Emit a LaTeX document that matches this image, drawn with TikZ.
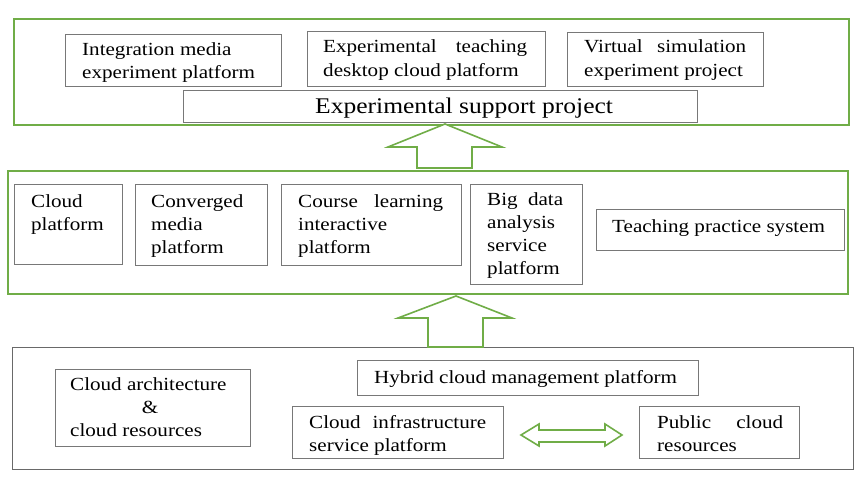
\documentclass[tikz,border=0pt]{standalone}
\usepackage{fontspec}
\setmainfont{Liberation Serif}[FakeStretch=1.14]
\definecolor{frgreen}{RGB}{112,173,71}
\definecolor{boxgray}{RGB}{120,120,120}
\definecolor{selgray}{RGB}{105,105,105}
\newcommand\mkbx[6]{\node[#6, anchor=north west, inner sep=0pt, minimum width={#4-#2}, minimum height={#5-#3}] (#1) at (#2,#3) {};}
\begin{document}
\begin{tikzpicture}[x=1pt,y=-1pt,
  frame/.style={draw=frgreen, line width=2pt},
  selframe/.style={draw=selgray, line width=1.3pt},
  bx/.style={draw=boxgray, line width=1.1pt, fill=white},
  txt/.style={font=\fontsize{18.5}{23.2}\selectfont, inner sep=0pt, align=left, anchor=base west, text=black},
  bigtxt/.style={font=\fontsize{22.4}{26}\selectfont, inner sep=0pt, anchor=base west, text=black},
  blockarrow/.style={draw=frgreen, line width=1.6pt, fill=white, line join=miter}]
\useasboundingbox (0,0) rectangle (858,487);
% frames
\mkbx{topframe}{13}{18}{848}{124}{frame}
\mkbx{midframe}{7}{170}{847}{293}{frame}
\mkbx{botframe}{12}{347}{853}{469}{selframe}
% block arrows
\draw[blockarrow] (445,124) -- (502,147) -- (472,147) -- (472,168) -- (417,168) -- (417,147) -- (388,147) -- cycle;
\draw[blockarrow] (456,296) -- (512,318) -- (483,318) -- (483,347) -- (428,347) -- (428,318) -- (398,318) -- cycle;
\draw[blockarrow] (521,435) -- (539,424) -- (539,430) -- (605,430) -- (605,424) -- (622,435) -- (605,446) -- (605,442) -- (539,442) -- (539,446) -- cycle;
% top boxes
\mkbx{b1}{65}{34}{281}{86}{bx}
\mkbx{b2}{307}{31}{545}{86}{bx}
\mkbx{b3}{567}{32}{763}{86}{bx}
\mkbx{b4}{183}{90}{697}{122}{bx}
\node[txt] (t1) at (82,78.2) {Integration media\\experiment platform};
\node[txt] (t2) at (323,76) {\hbox to 204pt{Experimental\hfill teaching}\\desktop cloud platform};
\node[txt] (t3) at (584,76) {\hbox to 162pt{Virtual\hfill simulation}\\experiment project};
\node[bigtxt] (t4) at (315,113) {Experimental support project};
% middle boxes
\mkbx{m1}{14}{184}{122}{264}{bx}
\mkbx{m2}{135}{184}{267}{265}{bx}
\mkbx{m3}{281}{184}{461}{265}{bx}
\mkbx{m4}{470}{184}{582}{284}{bx}
\mkbx{m5}{596}{209}{844}{250}{bx}
\node[txt] (u1) at (31,230.2) {Cloud\\platform};
\node[txt] (u2) at (151,253.4) {Converged\\media\\platform};
\node[txt] (u3) at (298,253.4) {\hbox to 145pt{Course\hfill learning}\\interactive\\platform};
\node[txt] (u4) at (487,274.6) {\hbox to 76pt{Big\hfill data}\\analysis\\service\\platform};
\node[txt] (u5) at (612,232) {Teaching practice system};
% bottom boxes
\mkbx{c1}{55}{369}{250}{446}{bx}
\mkbx{c2}{357}{360}{698}{395}{bx}
\mkbx{c3}{292}{406}{503}{458}{bx}
\mkbx{c4}{639}{406}{799}{458}{bx}
\node[txt] (v1) at (70,436.4) {Cloud architecture\\\hbox to 160pt{\hss\&\hss}\\cloud resources};
\node[txt] (v2) at (374,383) {Hybrid cloud management platform};
\node[txt] (v3) at (309,451.2) {\hbox to 177pt{Cloud\hfill infrastructure}\\service platform};
\node[txt] (v4) at (657,451.2) {\hbox to 126pt{Public\hfill cloud}\\resources};
\end{tikzpicture}
\end{document}
